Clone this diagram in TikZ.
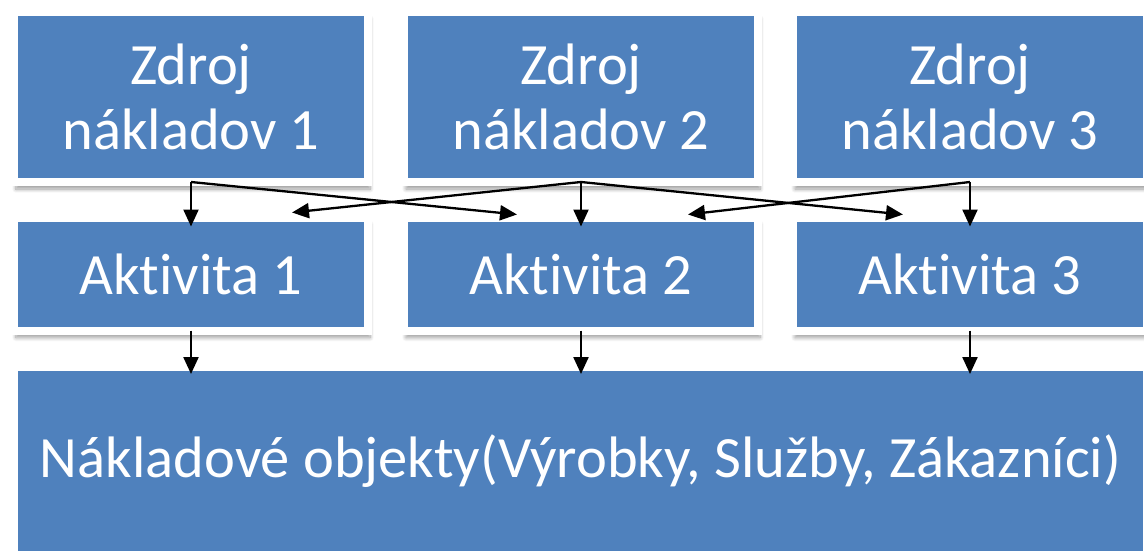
\documentclass[tikz,border=0pt]{standalone}
\usepackage{fontspec}
\setmainfont{Carlito}[Ligatures={NoCommon,NoRare,NoContextual}]
\usetikzlibrary{arrows.meta,calc,shadows.blur}
\definecolor{boxblue}{RGB}{79,129,189}
\tikzset{
  bx/.style={rectangle, fill=boxblue, draw=white, line width=8pt, inner sep=0pt, outer sep=0pt,
    text=white, align=center, font=\fontsize{58.5}{65}\selectfont,
    blur shadow={shadow xshift=2pt, shadow yshift=-7pt, shadow blur steps=8, shadow blur radius=4pt, shadow opacity=40}},
  srcbox/.style={bx, minimum width=354pt, minimum height=170pt},
  actbox/.style={bx, minimum width=354pt, minimum height=113pt},
  arr/.style={line width=2.3pt, black, -{Triangle[length=17pt,width=15pt]}}
}
\begin{document}
\begin{tikzpicture}[x=1pt,y=-1pt]
\useasboundingbox (0,0) rectangle (1144,554);
\node[srcbox] (z1) at (191,97) {Zdroj\\nákladov 1};
\node[srcbox] (z2) at (581,97) {Zdroj\\nákladov 2};
\node[srcbox] (z3) at (970,97) {Zdroj\\nákladov 3};
\node[actbox] (a1) at (191,274) {Aktivita 1};
\node[actbox] (a2) at (581,274) {Aktivita 2};
\node[actbox] (a3) at (970,274) {Aktivita 3};
\node[bx, minimum width=1133pt, minimum height=188pt] (bot) at (580.5,461) {Nákladové objekty(Výrobky, Služby, Zákazníci)};
\coordinate (t1) at ($(a1.north)+(0,9)$);
\coordinate (t2) at ($(a2.north)+(0,9)$);
\coordinate (t3) at ($(a3.north)+(0,9)$);
\coordinate (d21) at ($(a1.north)+(101,-5)$);
\coordinate (d12) at ($(a2.north)+(-64,-3)$);
\coordinate (d32) at ($(a2.north)+(107,-3)$);
\coordinate (d23) at ($(a3.north)+(-67,-3)$);
\draw[arr] (z1.south) -- (t1);
\draw[arr] (z2.south) -- (t2);
\draw[arr] (z3.south) -- (t3);
\draw[arr] (z1.south) -- (d12);
\draw[arr] (z2.south) -- (d21);
\draw[arr] (z2.south) -- (d23);
\draw[arr] (z3.south) -- (d32);
\coordinate (b1) at ($(a1.south |- bot.north)+(0,7)$);
\coordinate (b2) at ($(a2.south |- bot.north)+(0,7)$);
\coordinate (b3) at ($(a3.south |- bot.north)+(0,7)$);
\draw[arr] (a1.south) -- (b1);
\draw[arr] (a2.south) -- (b2);
\draw[arr] (a3.south) -- (b3);
\end{tikzpicture}
\end{document}
